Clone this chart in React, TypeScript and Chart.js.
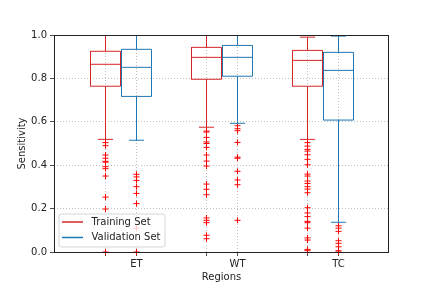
import React, { useEffect, useRef } from "react";
import { Chart, registerables } from "chart.js";

Chart.register(...registerables);

// ---- data ----
const regions = ["ET", "WT", "TC"];
const seriesNames = ["Training Set", "Validation Set"];
const groupCenters = [1, 2, 3];
const xTickLabels = ["", "ET", "", "WT", "", "TC"];
const yTicks = [0, 0.2, 0.4, 0.6, 0.8, 1.0];

const trainQ1 = [0.764, 0.796, 0.764];
const trainMedian = [0.865, 0.897, 0.883];
const trainQ3 = [0.925, 0.943, 0.929];
const trainWhiskerLow = [0.519, 0.575, 0.519];
const trainWhiskerHigh = [1.0, 1.0, 0.99];

const valQ1 = [0.717, 0.81, 0.608];
const valMedian = [0.851, 0.897, 0.837];
const valQ3 = [0.934, 0.952, 0.92];
const valWhiskerLow = [0.515, 0.593, 0.137];
const valWhiskerHigh = [1.0, 1.0, 0.995];

const trainOutliersET = [0.504, 0.49, 0.447, 0.432, 0.418, 0.414, 0.393, 0.384, 0.35, 0.253, 0.198, 0.0];
const trainOutliersWT = [0.557, 0.553, 0.528, 0.507, 0.5, 0.482, 0.447, 0.419, 0.396, 0.313, 0.289, 0.264, 0.157, 0.146, 0.135, 0.077, 0.061];
const trainOutliersTC = [0.504, 0.488, 0.473, 0.465, 0.448, 0.427, 0.402, 0.359, 0.35, 0.327, 0.316, 0.301, 0.29, 0.273, 0.204, 0.18, 0.163, 0.141, 0.135, 0.11, 0.065, 0.055, 0.012, 0.006];

const valOutliersET = [0.358, 0.346, 0.33, 0.301, 0.27, 0.223, 0.109, 0.0];
const valOutliersWT = [0.582, 0.568, 0.559, 0.505, 0.437, 0.432, 0.372, 0.332, 0.31, 0.146];
const valOutliersTC = [0.121, 0.11, 0.095, 0.052, 0.04, 0.024, 0.006, 0.0];

// ---- style ----
const RED = "#d62728";
const BLUE = "#1f77b4";
const FLIER = "#ff0000";
const TEXT = "#222222";
const OFFSET = 0.1535;
const BOX_HALF = 0.1485;
const CAP_HALF = 0.075;
const X_MIN = 0.3366;
const X_MAX = 3.6534;

type Pt = { x: number; y: number };

function lineDs(data: Pt[], color: string) {
  return {
    type: "scatter" as const,
    data,
    showLine: true,
    borderColor: color,
    backgroundColor: color,
    borderWidth: 1,
    pointRadius: 0,
    fill: false,
  };
}

function boxDatasets(
  offset: number,
  q1: number[],
  med: number[],
  q3: number[],
  lo: number[],
  hi: number[],
  color: string
) {
  const out: any[] = [];
  groupCenters.forEach((g, i) => {
    const c = g + offset;
    out.push(
      lineDs(
        [
          { x: c - BOX_HALF, y: q1[i] },
          { x: c + BOX_HALF, y: q1[i] },
          { x: c + BOX_HALF, y: q3[i] },
          { x: c - BOX_HALF, y: q3[i] },
          { x: c - BOX_HALF, y: q1[i] },
        ],
        color
      )
    );
    out.push(lineDs([{ x: c - BOX_HALF, y: med[i] }, { x: c + BOX_HALF, y: med[i] }], color));
    out.push(lineDs([{ x: c, y: q1[i] }, { x: c, y: lo[i] }], color));
    out.push(lineDs([{ x: c - CAP_HALF, y: lo[i] }, { x: c + CAP_HALF, y: lo[i] }], color));
    out.push(lineDs([{ x: c, y: q3[i] }, { x: c, y: hi[i] }], color));
    out.push(lineDs([{ x: c - CAP_HALF, y: hi[i] }, { x: c + CAP_HALF, y: hi[i] }], color));
  });
  return out;
}

function flierDs(offset: number, lists: number[][]) {
  const data: Pt[] = [];
  lists.forEach((vals, i) => vals.forEach((v) => data.push({ x: groupCenters[i] + offset, y: v })));
  return {
    type: "scatter" as const,
    data,
    pointStyle: "cross",
    pointRadius: 3,
    borderColor: FLIER,
    backgroundColor: FLIER,
    borderWidth: 1,
    clip: false as const,
  };
}

const framePlugin = {
  id: "frame",
  afterDatasetsDraw(chart: any) {
    const { ctx, chartArea: a } = chart;
    ctx.save();
    ctx.strokeStyle = TEXT;
    ctx.lineWidth = 1;
    ctx.strokeRect(Math.round(a.left) + 0.5, Math.round(a.top) + 0.5, Math.round(a.right - a.left) - 1, Math.round(a.bottom - a.top));
    ctx.restore();
  },
};

const legendPlugin = {
  id: "boxLegend",
  afterDraw(chart: any) {
    const { ctx, chartArea: a } = chart;
    const w = 106;
    const h = 33;
    const x = a.left + 5;
    const y = a.bottom - 5 - h;
    ctx.save();
    ctx.beginPath();
    const r = 2;
    ctx.moveTo(x + r, y);
    ctx.lineTo(x + w - r, y);
    ctx.arcTo(x + w, y, x + w, y + r, r);
    ctx.lineTo(x + w, y + h - r);
    ctx.arcTo(x + w, y + h, x + w - r, y + h, r);
    ctx.lineTo(x + r, y + h);
    ctx.arcTo(x, y + h, x, y + h - r, r);
    ctx.lineTo(x, y + r);
    ctx.arcTo(x, y, x + r, y, r);
    ctx.closePath();
    ctx.fillStyle = "rgba(255,255,255,0.8)";
    ctx.fill();
    ctx.strokeStyle = "rgba(204,204,204,0.8)";
    ctx.lineWidth = 1;
    ctx.stroke();
    const colors = [RED, BLUE];
    ctx.font = "10px 'DejaVu Sans'";
    ctx.textBaseline = "middle";
    ctx.fillStyle = TEXT;
    seriesNames.forEach((name, i) => {
      const cy = y + 8 + i * 15.5;
      ctx.strokeStyle = colors[i];
      ctx.lineWidth = 1.5;
      ctx.beginPath();
      ctx.moveTo(x + 3, cy);
      ctx.lineTo(x + 24, cy);
      ctx.stroke();
      ctx.fillText(name, x + 32.5, cy);
    });
    ctx.restore();
  },
};

export default function App() {
  const ref = useRef<HTMLCanvasElement | null>(null);
  useEffect(() => {
    if (!ref.current) return;
    Chart.defaults.font.family = "'DejaVu Sans'";
    Chart.defaults.font.size = 10;
    Chart.defaults.color = TEXT;
    const tickPositions: number[] = [];
    groupCenters.forEach((g) => {
      tickPositions.push(g - OFFSET, g + OFFSET);
    });
    const datasets = [
      ...boxDatasets(-OFFSET, trainQ1, trainMedian, trainQ3, trainWhiskerLow, trainWhiskerHigh, RED),
      ...boxDatasets(OFFSET, valQ1, valMedian, valQ3, valWhiskerLow, valWhiskerHigh, BLUE),
      flierDs(-OFFSET, [trainOutliersET, trainOutliersWT, trainOutliersTC]),
      flierDs(OFFSET, [valOutliersET, valOutliersWT, valOutliersTC]),
    ];
    const chart = new Chart(ref.current, {
      type: "scatter",
      data: { datasets },
      options: {
        animation: false,
        responsive: false,
        devicePixelRatio: 1,
        events: [],
        layout: { padding: { top: 35, right: 43, left: 0, bottom: 0 } },
        plugins: { legend: { display: false }, tooltip: { enabled: false } },
        scales: {
          x: {
            type: "linear",
            min: X_MIN,
            max: X_MAX,
            afterBuildTicks: (scale: any) => {
              scale.ticks = tickPositions.map((v) => ({ value: v }));
            },
            afterFit: (scale: any) => {
              scale.height = 36;
            },
            ticks: {
              autoSkip: false,
              maxRotation: 0,
              padding: 2,
              color: TEXT,
              callback: (_v: any, i: number) => xTickLabels[i],
            },
            grid: { color: "#b0b0b0", lineWidth: 0.8, tickColor: TEXT, tickLength: 4 },
            border: { display: false, dash: [1, 2] },
            title: { display: true, text: "Regions", color: TEXT, padding: { top: 0, bottom: 5 } },
          },
          y: {
            type: "linear",
            min: 0,
            max: 1,
            afterBuildTicks: (scale: any) => {
              scale.ticks = yTicks.map((v) => ({ value: v }));
            },
            afterFit: (scale: any) => {
              scale.width = 54;
            },
            ticks: {
              padding: 3,
              color: TEXT,
              callback: (v: any) => Number(v).toFixed(1),
            },
            grid: { color: "#b0b0b0", lineWidth: 0.8, tickColor: TEXT, tickLength: 4 },
            border: { display: false, dash: [1, 2] },
            title: { display: true, text: "Sensitivity", color: TEXT, padding: { top: 16, bottom: 0 } },
          },
        },
      },
      plugins: [framePlugin, legendPlugin],
    } as any);
    return () => chart.destroy();
  }, []);
  return (
    <div style={{ position: "absolute", left: 0, top: 0, width: 432, height: 288, background: "#fff" }}>
      <canvas ref={ref} width={432} height={288} style={{ display: "block" }} />
    </div>
  );
}
